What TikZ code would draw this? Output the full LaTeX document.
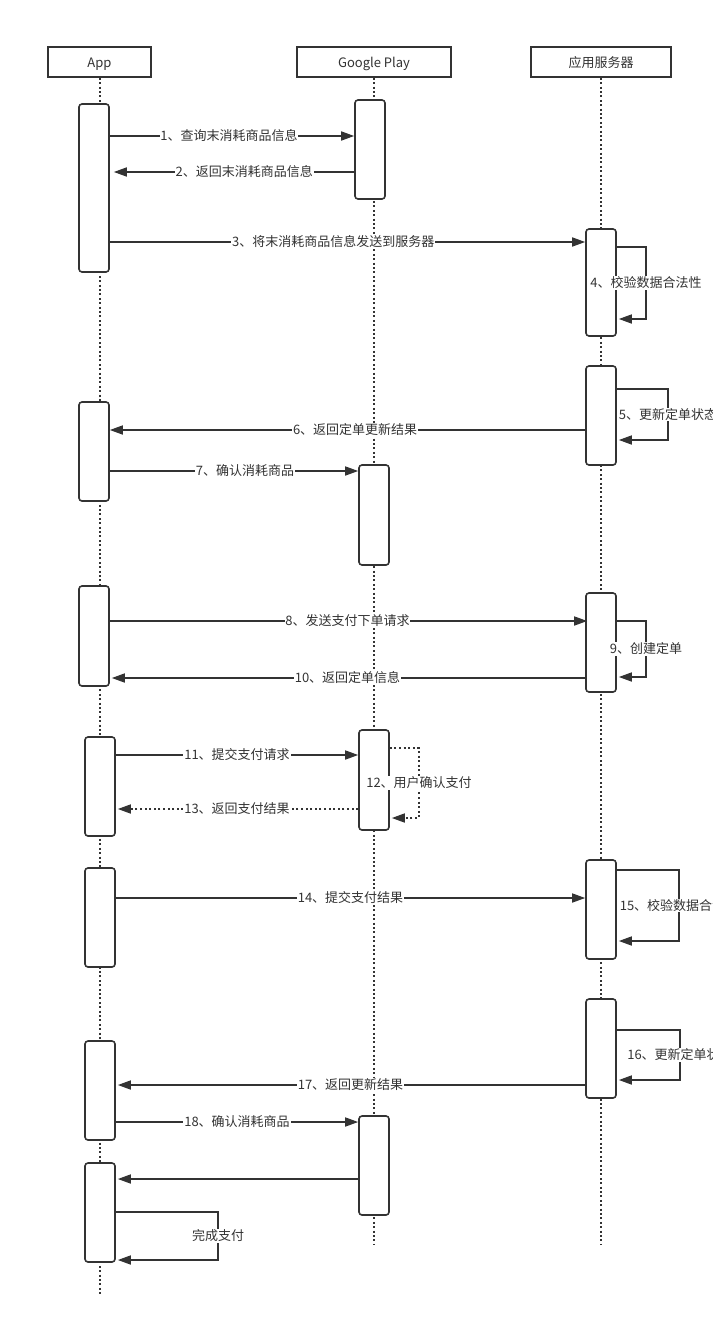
\documentclass[tikz,border=0pt]{standalone}
\usepackage{fontspec}
\setmainfont{Noto Sans CJK SC}
\usetikzlibrary{arrows.meta}
\definecolor{ink}{HTML}{333333}
\tikzset{
  hdr/.style={draw=ink, line width=1.5pt, minimum height=30pt, inner sep=0pt, text=ink, font=\fontsize{13}{14}\selectfont, fill=white, text height=11pt, text depth=1pt},
  act/.style={draw=ink, line width=1.6pt, rounded corners=3pt, minimum width=30pt, fill=white, inner sep=0pt},
  life/.style={draw=ink, line width=2pt, dash pattern=on 2pt off 2.4pt},
  msg/.style={draw=ink, line width=1.6pt, -{Triangle[length=13pt,width=9pt]}},
  dmsg/.style={msg, dash pattern=on 2pt off 2.6pt},
  lbl/.style={fill=white, inner sep=0.8pt, text=ink, font=\fontsize{13}{14}\selectfont, pos=0.5}
}
\begin{document}
\begin{tikzpicture}[x=1pt,y=-1pt]
\useasboundingbox (0,0) rectangle (712,1330);
% headers
\node[hdr, minimum width=103pt] (App) at (99.5,62) {App};
\node[hdr, minimum width=154pt] (GP) at (374,62) {Google Play};
\node[hdr, minimum width=140pt] (Srv) at (601,62) {应用服务器};
% lifeline ends
\coordinate (endA) at (100,1295);
\coordinate (endG) at (374,1245);
\coordinate (endS) at (601,1245);
\draw[life] (App.south) -- (App.south |- endA);
\draw[life] (GP.south) -- (GP.south |- endG);
\draw[life] (Srv.south) -- (Srv.south |- endS);
% activation boxes
\node[act, minimum height=168pt] (A1) at (94,188) {};
\node[act, minimum height=99pt] (A2) at (94,451.5) {};
\node[act, minimum height=100pt] (A3) at (94,636) {};
\node[act, minimum height=99pt] (A4) at (100,786.5) {};
\node[act, minimum height=99pt] (A5) at (100,917.5) {};
\node[act, minimum height=99pt] (A6) at (100,1090.5) {};
\node[act, minimum height=99pt] (A7) at (100,1212.5) {};
\node[act, minimum height=99pt] (G1) at (370,149.5) {};
\node[act, minimum height=100pt] (G2) at (374,515) {};
\node[act, minimum height=100pt] (G3) at (374,780) {};
\node[act, minimum height=99pt] (G4) at (374,1165.5) {};
\node[act, minimum height=107pt] (S1) at (601,282.5) {};
\node[act, minimum height=99pt] (S2) at (601,415.5) {};
\node[act, minimum height=99pt] (S3) at (601,642.5) {};
\node[act, minimum height=99pt] (S4) at (601,909.5) {};
\node[act, minimum height=99pt] (S5) at (601,1048.5) {};
% message rows
\coordinate (m1) at (0,136);
\coordinate (m2) at (0,172);
\coordinate (m3) at (0,242);
\coordinate (m6) at (0,430);
\coordinate (m7) at (0,471);
\coordinate (m8) at (0,621);
\coordinate (m10) at (0,678);
\coordinate (m11) at (0,755);
\coordinate (m13) at (0,809);
\coordinate (m14) at (0,898);
\coordinate (m17) at (0,1085);
\coordinate (m18) at (0,1122);
\coordinate (m19) at (0,1179);
% messages
\draw[msg] (A1.east |- m1) -- node[lbl, pos=0.488]{1、查询末消耗商品信息} (G1.west |- m1);
\draw[msg, shorten >=4pt] (G1.west |- m2) -- node[lbl, pos=0.45]{2、返回末消耗商品信息} (A1.east |- m2);
\draw[msg] (A1.east |- m3) -- node[lbl, pos=0.47]{3、将末消耗商品信息发送到服务器} (S1.west |- m3);
\draw[msg] (S2.west |- m6) -- node[lbl, pos=0.484]{6、返回定单更新结果} (A2.east |- m6);
\draw[msg] (A2.east |- m7) -- node[lbl, pos=0.544]{7、确认消耗商品} (G2.west |- m7);
\draw[msg, shorten >=-2pt] (A3.east |- m8) -- node[lbl, pos=0.5]{8、发送支付下单请求} (S3.west |- m8);
\draw[msg, shorten >=2pt] (S3.west |- m10) -- node[lbl, pos=0.5]{10、返回定单信息} (A3.east |- m10);
\draw[msg] (A4.east |- m11) -- node[lbl]{11、提交支付请求} (G3.west |- m11);
\draw[dmsg, shorten >=2pt] (G3.west |- m13) -- node[lbl]{13、返回支付结果} (A4.east |- m13);
\draw[msg] (A5.east |- m14) -- node[lbl]{14、提交支付结果} (S4.west |- m14);
\draw[msg, shorten >=2pt] (S5.west |- m17) -- node[lbl]{17、返回更新结果} (A6.east |- m17);
\draw[msg] (A6.east |- m18) -- node[lbl]{18、确认消耗商品} (G4.west |- m18);
\draw[msg, shorten >=2pt] (G4.west |- m19) -- (A7.east |- m19);
% self loops
\coordinate (c4a) at (646,247); \coordinate (c4b) at (646,319);
\draw[msg, shorten >=2pt] (S1.east |- c4a) -- (c4a) -- node[lbl]{4、校验数据合法性} (c4b) -- (S1.east |- c4b);
\coordinate (c5a) at (668,389); \coordinate (c5b) at (668,440);
\draw[msg, shorten >=2pt] (S2.east |- c5a) -- (c5a) -- node[lbl]{5、更新定单状态} (c5b) -- (S2.east |- c5b);
\coordinate (c9a) at (646,621); \coordinate (c9b) at (646,677);
\draw[msg, shorten >=2pt] (S3.east |- c9a) -- (c9a) -- node[lbl]{9、创建定单} (c9b) -- (S3.east |- c9b);
\coordinate (c12a) at (419,748); \coordinate (c12b) at (419,818);
\draw[dmsg, shorten >=2pt] (G3.east |- c12a) -- (c12a) -- node[lbl]{12、用户确认支付} (c12b) -- (G3.east |- c12b);
\coordinate (c15a) at (679,870); \coordinate (c15b) at (679,941);
\draw[msg, shorten >=2pt] (S4.east |- c15a) -- (c15a) -- node[lbl]{15、校验数据合法性} (c15b) -- (S4.east |- c15b);
\coordinate (c16a) at (680,1030); \coordinate (c16b) at (680,1080);
\draw[msg, shorten >=2pt] (S5.east |- c16a) -- (c16a) -- node[lbl]{16、更新定单状态} (c16b) -- (S5.east |- c16b);
\coordinate (c20a) at (218,1212); \coordinate (c20b) at (218,1260);
\draw[msg, shorten >=2pt] (A7.east |- c20a) -- (c20a) -- node[lbl]{完成支付} (c20b) -- (A7.east |- c20b);
\end{tikzpicture}
\end{document}
